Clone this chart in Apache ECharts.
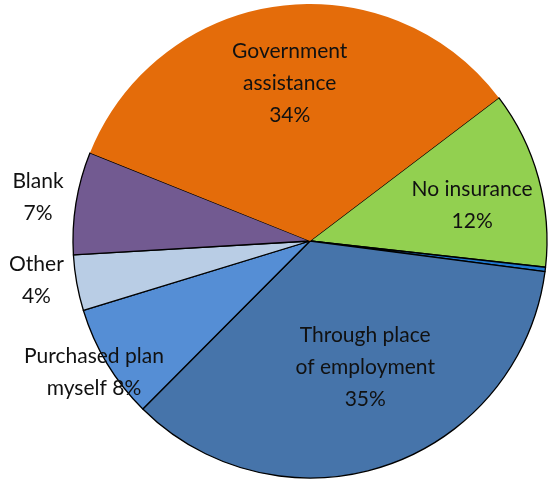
<!DOCTYPE html>
<html>
<head>
<meta charset="utf-8">
<script src="https://cdn.jsdelivr.net/npm/echarts@6/dist/echarts.min.js"></script>
<style>
html, body { margin: 0; padding: 0; background: #fff; }
#chart { width: 556px; height: 479px; }
</style>
</head>
<body>
<div id="chart"></div>
<script>
// slices, clockwise from the orange/green edge
var names = ['No insurance', 'Unlabeled', 'Through place of employment', 'Purchased plan myself', 'Other', 'Blank', 'Government assistance'];
var values = [12.1, 0.3, 35.4, 7.8, 3.8, 7.0, 33.6];
var labelTexts = ['No insurance\n{p}', '', 'Through place\nof employment\n{p}', 'Purchased plan\nmyself {p}', 'Other\n{p}', 'Blank\n{p}', 'Government\nassistance\n{p}'];
var colors = ['#92D050', '#1F78CF', '#4674AA', '#558ED5', '#B9CDE5', '#725A91', '#E46C0A'];
// label nudges from the inside position
var shifts = [[45, -3], [0, 0], [16, 11], [-112, 69], [-154, 18], [-152, -24], [-4, -37]];

var data = [];
names.forEach(function (n, i) {
	data.push({
		name: n,
		value: values[i],
		itemStyle: {
			color: colors[i],
			borderColor: '#000',
			borderWidth: i === 6 ? 0 : 1.3
		},
		label: { show: labelTexts[i] !== '' }
	});
});

var myChart = echarts.init(document.getElementById('chart'));
myChart.setOption({
	animation: false,
	series: [{
		type: 'pie',
		center: [310, 241],
		radius: 237,
		startAngle: 37.2,
		clockwise: true,
		data: data,
		label: {
			position: 'inside',
			fontFamily: 'Lato',
			fontSize: 21,
			lineHeight: 32,
			color: '#111',
			align: 'center',
			formatter: function (p) {
				return labelTexts[p.dataIndex].replace('{p}', Math.round(p.value) + '%');
			}
		},
		labelLine: { show: false },
		labelLayout: function (p) {
			return { dx: shifts[p.dataIndex][0], dy: shifts[p.dataIndex][1] };
		}
	}]
});
</script>
</body>
</html>
